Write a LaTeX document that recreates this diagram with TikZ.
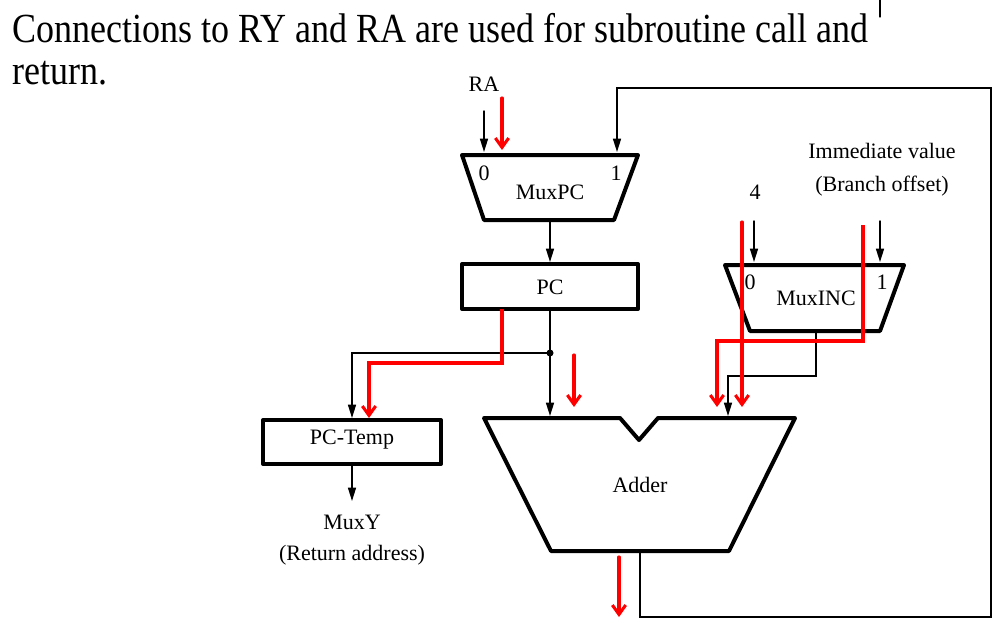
\documentclass[tikz,border=0pt]{standalone}
\usepackage{fontspec}
\setmainfont{Liberation Serif}
\usepackage{tkz-euclide}
\usetikzlibrary{arrows.meta}
\tikzset{>={Triangle[length=10pt,width=6pt]}}
\tikzset{
  wire/.style={line width=1.1pt, ->},
  redwire/.style={red, line width=2.3pt, -{Straight Barb[length=7pt,width=10pt]}},
  unitbox/.style={line width=3pt},
  lbl/.style={font=\fontsize{16.5}{19}\selectfont, inner sep=0pt},
  headtext/.style={anchor=base west, inner sep=0pt, font=\fontsize{27}{32}\selectfont},
}

\begin{document}
\begin{tikzpicture}[x=0.75pt, y=-0.75pt]
    \useasboundingbox (0,0) rectangle (1006,626);
    \node[headtext] (head1) at (12,42) {\scalebox{1}[1.15]{Connections to RY and RA are used for subroutine call and}};
    \node[headtext] (head2) at (12,84) {\scalebox{1}[1.15]{return.}};
    \tkzDefPoints{880/0/t1, 880/17/t2}
    \tkzDrawSegment[line width=0.8pt](t1,t2)
    % MuxPC and PC
    \tkzDefPoints{462/155/P1, 638/155/P2, 614/220/P3, 484/220/P4}
    \tkzDrawPolygon[unitbox](P1,P2,P3,P4)
    \node[lbl] (muxpc) at (550,192) {MuxPC};
    \node[lbl] (mpc0) at (484,173) {0};
    \node[lbl] (mpc1) at (616,173) {1};
    \node[lbl] (ra) at (484,84) {RA};
    \tkzDefPoints{462/264/C1, 638/264/C2, 638/309/C3, 462/309/C4}
    \tkzDrawPolygon[unitbox](C1,C2,C3,C4)
    \node[lbl] (pc) at (550,287) {PC};
    % PC-Temp
    \tkzDefPoints{263/420/T1, 441/420/T2, 441/464/T3, 263/464/T4}
    \tkzDrawPolygon[unitbox](T1,T2,T3,T4)
    \node[lbl] (pctemp) at (352,440) {PC-Temp};
    \node[lbl] (muxy) at (352,522) {MuxY};
    \node[lbl] (retaddr) at (352,555) {(Return address)};
    % Adder
    \tkzDefPoints{484/418/D1, 620/418/D2, 639/440/D3, 658/418/D4, 795/418/D5, 729/551/D6, 551/551/D7}
    \tkzDrawPolygon[unitbox](D1,D2,D3,D4,D5,D6,D7)
    \node[lbl] (adder) at (640,485) {Adder};
    % MuxINC
    \tkzDefPoints{725/265/N1, 904/265/N2, 880/331/N3, 750/331/N4}
    \tkzDrawPolygon[unitbox](N1,N2,N3,N4)
    \node[lbl] (muxinc) at (816,298) {MuxINC};
    \node[lbl] (minc0) at (750,282) {0};
    \node[lbl] (minc1) at (882,282) {1};
    \node[lbl] (four) at (755,192) {4};
    \node[lbl] (imm) at (882,151) {Immediate value};
    \node[lbl] (offs) at (882,186) {(Branch offset)};
    % black wires
    \tkzDefPoints{484/111/R0, 484/152/R1, 550/220/M0, 550/262/M1}
    \tkzDrawSegment[wire](R0,R1)
    \tkzDrawSegment[wire](M0,M1)
    \tkzDefPoints{550/309/Q0, 550/353/J, 550/416/Q1, 352/353/Q2, 352/418/Q3, 352/464/Q4, 352/501/Q5}
    \draw[wire] (Q0) -- (J) -- (Q1);
    \draw[wire] (J) -- (Q2) -- (Q3);
    \fill (J) circle[radius=3.5];
    \tkzDrawSegment[wire](Q4,Q5)
    \tkzDefPoints{754/221/I0, 754/262/I1, 880/221/I2, 880/262/I3}
    \tkzDrawSegment[wire](I0,I1)
    \tkzDrawSegment[wire](I2,I3)
    \tkzDefPoints{816/331/W0, 816/376/W1, 728/376/W2, 728/416/W3}
    \draw[wire] (W0) -- (W1) -- (W2) -- (W3);
    \tkzDefPoints{640/551/F0, 640/617/F1, 991/617/F2, 991/88/F3, 617/88/F4, 617/152/F5}
    \draw[wire] (F0) -- (F1) -- (F2) -- (F3) -- (F4) -- (F5);
    % red paths
    \tkzDefPoints{502/98/S0, 502/150/S1, 574/355/S2, 574/407/S3, 619/557/S4, 619/617/S5}
    \tkzDrawSegment[redwire](S0,S1)
    \tkzDrawSegment[redwire](S2,S3)
    \tkzDrawSegment[redwire](S4,S5)
    \tkzDefPoints{502/309/U0, 502/363/U1, 369/363/U2, 369/418/U3}
    \draw[redwire] (U0) -- (U1) -- (U2) -- (U3);
    \tkzDefPoints{742/222/V0, 742/407/V1, 863/225/V2, 863/341/V3, 717/341/V4, 717/407/V5}
    \tkzDrawSegment[redwire](V0,V1)
    \draw[redwire] (V2) -- (V3) -- (V4) -- (V5);
\end{tikzpicture}
\end{document}
